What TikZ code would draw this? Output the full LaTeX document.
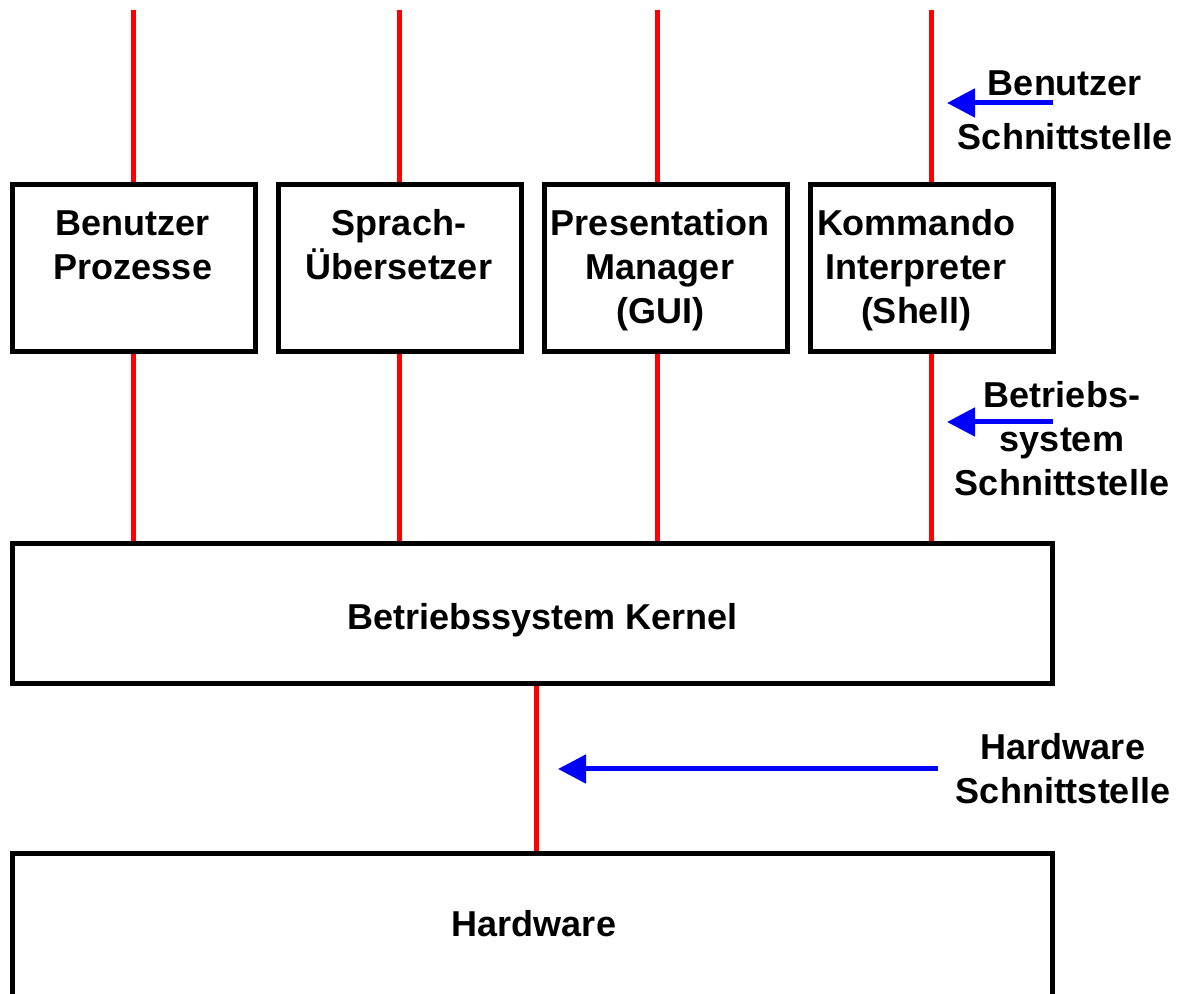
\documentclass[tikz,border=0pt]{standalone}
\usepackage{fontspec}
\setmainfont{Liberation Sans}
\usepackage{xcolor}
\definecolor{ifred}{HTML}{FF0000}
\definecolor{ifblue}{HTML}{0000FF}
\usetikzlibrary{arrows.meta,positioning,backgrounds}

\begin{document}
\begin{tikzpicture}[x=0.5pt,y=-0.5pt,
  layer/.style={draw,line width=2.5pt,minimum width=121.5pt,minimum height=83.5pt,inner sep=0pt},
  wide/.style={layer,minimum width=520pt,minimum height=70pt},
  lbl/.style={font=\bfseries\fontsize{18}{22}\selectfont,align=center,inner sep=0pt,anchor=base},
  wire/.style={ifred,line width=2.5pt},
  iface/.style={ifblue,line width=2.5pt,-{Triangle[length=14pt,width=14pt]}}]
  \useasboundingbox (0,0) rectangle (1180,994);

  % upper layer (labels sit on their last baseline)
  \node[layer] (b1) at (134,268) {};
  \node[layer] (b2) at (400,268) {};
  \node[layer] (b3) at (666,268) {};
  \node[layer] (b4) at (932,268) {};
  \node[lbl] (t1) at (133,280) {Benutzer\\Prozesse};
  \node[lbl] (t2) at (399,280) {Sprach-\\Übersetzer};
  \node[lbl] (t3) at (660,324) {Presentation\\Manager\\(GUI)};
  \node[lbl] (t4) at (916,324) {Kommando\\Interpreter\\(Shell)};

  % kernel and hardware
  \node[wide] (kern) at (532.5,613.5) {};
  \node[wide,minimum height=78pt] (hw) at (532.5,931.5) {};
  \node[lbl] (kt) at (543,630) {Betriebssystem Kernel};
  \node[lbl] (ht) at (534,936) {Hardware};

  % red interface lines
  \begin{scope}[on background layer]
    \foreach \x/\b in {133/b1,399/b2,657/b3,931/b4}{
      \coordinate (top-\b) at (\x,10);
      \draw[wire] (top-\b) -- (top-\b |- \b.north);
      \draw[wire] (top-\b |- \b.south) -- (top-\b |- kern.north);
    }
    \coordinate (mid) at (536,0);
    \draw[wire] (mid |- kern.south) -- (mid |- hw.north);
  \end{scope}

  % interface arrows and labels
  \coordinate (ui) at (1053,103);
  \coordinate (si) at (1053,422);
  \coordinate (hi) at (938,769);
  \draw[iface] (ui) -- ++(-106,0);
  \draw[iface] (si) -- ++(-106,0);
  \draw[iface] (hi) -- ++(-380,0);
  \node[lbl] (ul) at (1065,150) {Benutzer\\[5pt]Schnittstelle};
  \node[lbl] (sl) at (1062,496) {Betriebs-\\system\\Schnittstelle};
  \node[lbl] (hl) at (1063,804) {Hardware\\Schnittstelle};
\end{tikzpicture}
\end{document}
